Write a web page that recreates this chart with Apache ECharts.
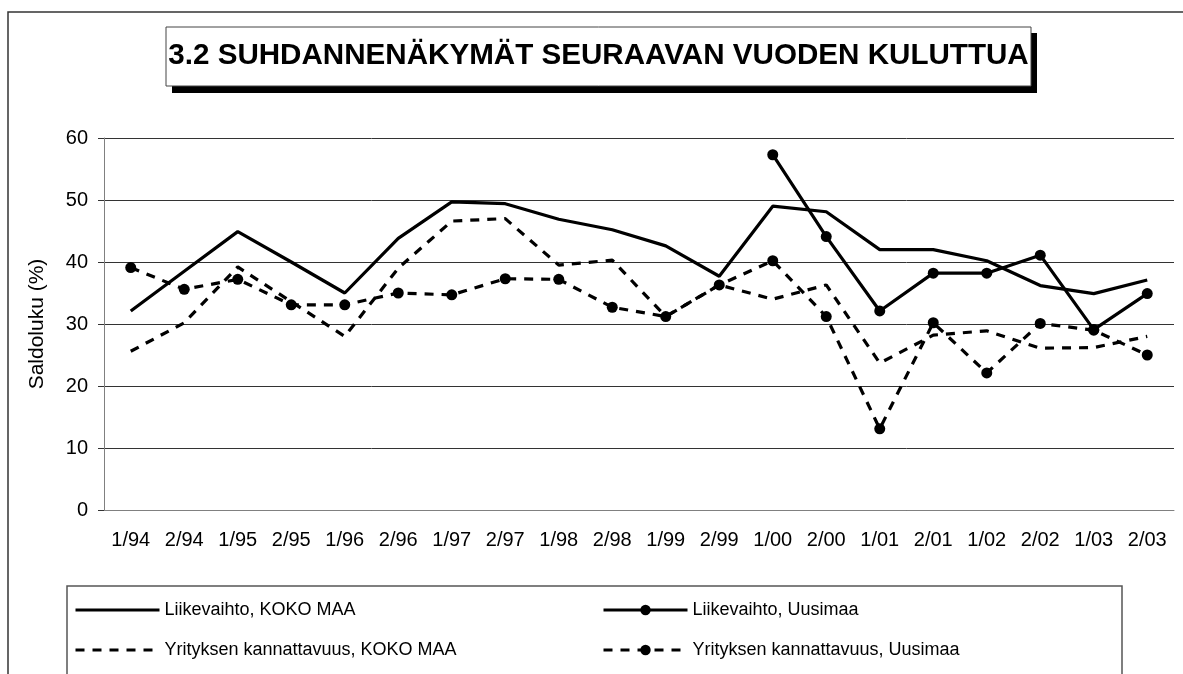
<!DOCTYPE html>
<html>
<head>
<meta charset="utf-8">
<script src="https://cdn.jsdelivr.net/npm/echarts@6/dist/echarts.min.js"></script>
<style>
  html, body { margin: 0; padding: 0; background: #fff; }
  #chart { width: 1183px; height: 674px; }
</style>
</head>
<body>
<div id="chart"></div>
<script>
var periods = ['1/94', '2/94', '1/95', '2/95', '1/96', '2/96', '1/97', '2/97', '1/98', '2/98',
               '1/99', '2/99', '1/00', '2/00', '1/01', '2/01', '1/02', '2/02', '1/03', '2/03'];

var liikevaihtoKoko = [32.1, 38.5, 44.9, 40.0, 35.0, 43.8, 49.7, 49.4, 46.9, 45.2,
                       42.6, 37.7, 49.0, 48.1, 42.0, 42.0, 40.2, 36.2, 34.9, 37.1];
var liikevaihtoUusimaa = ['-', '-', '-', '-', '-', '-', '-', '-', '-', '-',
                          '-', '-', 57.3, 44.1, 32.1, 38.2, 38.2, 41.1, 29.1, 34.9];
var kannattavuusKoko = [25.6, 30.2, 39.2, 33.6, 28.0, 39.0, 46.6, 47.0, 39.5, 40.3,
                        31.2, 36.3, 34.0, 36.3, 23.7, 28.2, 28.9, 26.1, 26.2, 28.0];
var kannattavuusUusimaa = [39.1, 35.6, 37.2, 33.1, 33.1, 35.0, 34.7, 37.3, 37.2, 32.7,
                           31.2, 36.3, 40.2, 31.2, 13.1, 30.2, 22.1, 30.1, 29.0, 25.0];

var seriesNames = ['Liikevaihto, KOKO MAA', 'Liikevaihto, Uusimaa',
                   'Yrityksen kannattavuus, KOKO MAA', 'Yrityksen kannattavuus, Uusimaa'];

var FONT = "'Liberation Sans', Arial, sans-serif";
var chart = echarts.init(document.getElementById('chart'));

// one legend component per entry so every item sits where it does in the original
function legendAt(name, left, top, hideSymbol) {
  return {
    data: [name],
    left: left,
    top: top,
    orient: 'horizontal',
    padding: 0,
    itemWidth: 84,
    itemHeight: 13,
    itemGap: 5,
    selectedMode: false,
    textStyle: { fontFamily: FONT, fontSize: 18, color: '#000', lineHeight: 20 },
    lineStyle: { width: 3 },
    itemStyle: hideSymbol ? { opacity: 0 } : {}
  };
}

var dash = [9, 8];

var option = {
  animation: false,
  backgroundColor: '#fff',
  graphic: [
    // outer frame
    { type: 'rect', silent: true, shape: { x: 8, y: 12, width: 1200, height: 700 },
      style: { fill: 'none', stroke: '#333', lineWidth: 1.5 } },
    // title box with shadow
    { type: 'rect', silent: true, shape: { x: 172, y: 33, width: 865, height: 60 },
      style: { fill: '#000' } },
    { type: 'rect', silent: true, shape: { x: 166, y: 27, width: 865, height: 59 },
      style: { fill: '#fff', stroke: '#444', lineWidth: 1 } },
    { type: 'text', silent: true, x: 598.5, y: 56,
      style: { text: '3.2 SUHDANNENÄKYMÄT SEURAAVAN VUODEN KULUTTUA', fill: '#000',
               font: 'bold 29.6px ' + FONT, textAlign: 'center', textVerticalAlign: 'middle' } },
    // legend box
    { type: 'rect', silent: true, shape: { x: 67, y: 586, width: 1055, height: 120 },
      style: { fill: 'none', stroke: '#555', lineWidth: 1.5 } }
  ],
  legend: [
    legendAt(seriesNames[0], 74, 600, true),
    legendAt(seriesNames[1], 602, 600, false),
    legendAt(seriesNames[2], 74, 640, true),
    legendAt(seriesNames[3], 602, 640, false)
  ],
  grid: { left: 104, right: 9, top: 138, bottom: 164 },
  xAxis: {
    type: 'category',
    data: periods,
    boundaryGap: true,
    axisLine: { lineStyle: { color: '#808080', width: 1 } },
    axisTick: { length: 6, lineStyle: { color: '#333' } },
    axisLabel: { fontFamily: FONT, fontSize: 20, color: '#000', margin: 20 }
  },
  yAxis: {
    type: 'value',
    min: 0,
    max: 60,
    interval: 10,
    name: 'Saldoluku (%)',
    nameLocation: 'middle',
    nameGap: 56,
    nameTextStyle: { fontFamily: FONT, fontSize: 21, color: '#000' },
    axisLine: { show: true, lineStyle: { color: '#808080', width: 1 } },
    axisTick: { show: true, length: 6, lineStyle: { color: '#333' } },
    axisLabel: { fontFamily: FONT, fontSize: 20, color: '#000', margin: 16 },
    splitLine: { lineStyle: { color: '#333', width: 1 } }
  },
  series: [
    { name: seriesNames[0], type: 'line', data: liikevaihtoKoko, symbol: 'none',
      lineStyle: { color: '#000', width: 3.2 }, itemStyle: { color: '#000' } },
    { name: seriesNames[1], type: 'line', data: liikevaihtoUusimaa, symbol: 'circle', symbolSize: 11,
      lineStyle: { color: '#000', width: 3.2 }, itemStyle: { color: '#000' } },
    { name: seriesNames[2], type: 'line', data: kannattavuusKoko, symbol: 'none',
      lineStyle: { color: '#000', width: 3.2, type: dash }, itemStyle: { color: '#000' } },
    { name: seriesNames[3], type: 'line', data: kannattavuusUusimaa, symbol: 'circle', symbolSize: 11,
      lineStyle: { color: '#000', width: 3.2, type: dash }, itemStyle: { color: '#000' } }
  ]
};

chart.setOption(option);
</script>
</body>
</html>
